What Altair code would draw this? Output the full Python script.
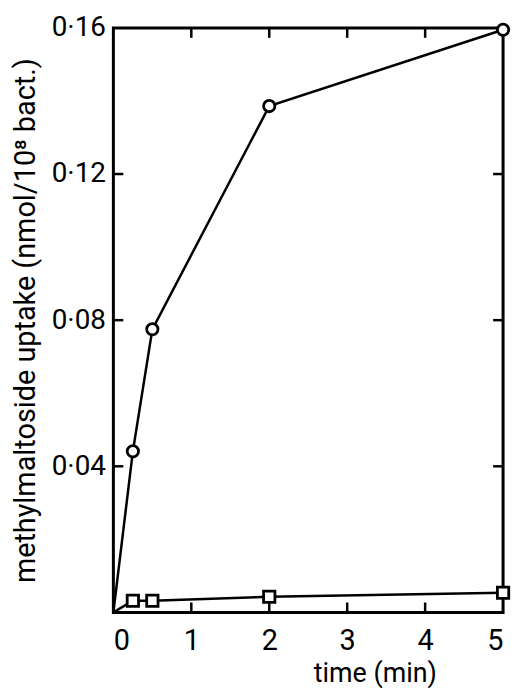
import altair as alt
import pandas as pd

# data
time_circle = [0, 0.25, 0.5, 2, 5]
uptake_circle = [0, 0.0441, 0.0775, 0.1386, 0.1595]
time_square = [0, 0.25, 0.5, 2, 5]
uptake_square = [0, 0.0032, 0.0032, 0.0043, 0.0054]
x_tick_values = [0, 1, 2, 3, 4, 5]
x_inner_ticks = [1, 2, 3, 4]
y_tick_values = [0.04, 0.08, 0.12, 0.16]
y_inner_ticks = [0.04, 0.08, 0.12]

W, H = 392, 588
FONT = "Roboto"

df = pd.concat([
    pd.DataFrame({"t": time_circle, "u": uptake_circle, "s": "circle"}),
    pd.DataFrame({"t": time_square, "u": uptake_square, "s": "square"}),
])

xs = alt.Scale(domain=[0, 5], nice=False, zero=False)
ys = alt.Scale(domain=[0, 0.16], nice=False, zero=False)

xaxis = alt.Axis(values=x_tick_values, format="d", title="time (min)", ticks=False, domain=False,
                 grid=False, labelPadding=14, labelFontSize=29, labelFont=FONT, labelColor="black",
                 titleFontSize=27, titleFont=FONT, titleFontWeight="normal", titleColor="black",
                 titleX=263, titlePadding=5)
yaxis = alt.Axis(values=y_tick_values, title="methylmaltoside uptake (nmol/10⁸ bact.)", ticks=False,
                 domain=False, grid=False,
                 labelExpr="replace(format(datum.value, '.2f'), '.', '·')",
                 labelPadding=8, labelFontSize=28, labelFont=FONT, labelColor="black",
                 titleFontSize=29, titleFont=FONT, titleFontWeight="normal", titleColor="black",
                 titlePadding=11)

base = alt.Chart(df)
lines = base.mark_line(color="black", strokeWidth=2.5).encode(
    x=alt.X("t:Q", scale=xs, axis=xaxis),
    y=alt.Y("u:Q", scale=ys, axis=yaxis),
    detail="s:N",
)
pts = base.transform_filter("datum.t > 0").mark_point(filled=True, fill="white", stroke="black",
                                                       strokeWidth=2.8, size=130, opacity=1).encode(
    x=alt.X("t:Q", scale=xs),
    y=alt.Y("u:Q", scale=ys),
    shape=alt.Shape("s:N", scale=alt.Scale(domain=["circle", "square"], range=["circle", "square"]), legend=None),
)

xt = pd.DataFrame({"v": x_inner_ticks})
yt = pd.DataFrame({"v": y_inner_ticks})
tb = alt.Chart(xt).mark_rule(color="black", strokeWidth=2.5).encode(
    x=alt.X("v:Q", scale=xs), y=alt.value(H), y2=alt.value(H - 10))
tt = alt.Chart(xt).mark_rule(color="black", strokeWidth=2.5).encode(
    x=alt.X("v:Q", scale=xs), y=alt.value(0), y2=alt.value(10))
tl = alt.Chart(yt).mark_rule(color="black", strokeWidth=2.5).encode(
    y=alt.Y("v:Q", scale=ys), x=alt.value(0), x2=alt.value(10))
tr = alt.Chart(yt).mark_rule(color="black", strokeWidth=2.5).encode(
    y=alt.Y("v:Q", scale=ys), x=alt.value(W), x2=alt.value(W - 10))

chart = alt.layer(lines, pts, tb, tt, tl, tr).properties(
    width=W, height=H, background="white",
    padding={"left": 3, "top": 4, "right": 0, "bottom": 0},
).configure_view(stroke="black", strokeWidth=3)

chart.save("out.html", embed_options={"renderer": "svg", "actions": False})
